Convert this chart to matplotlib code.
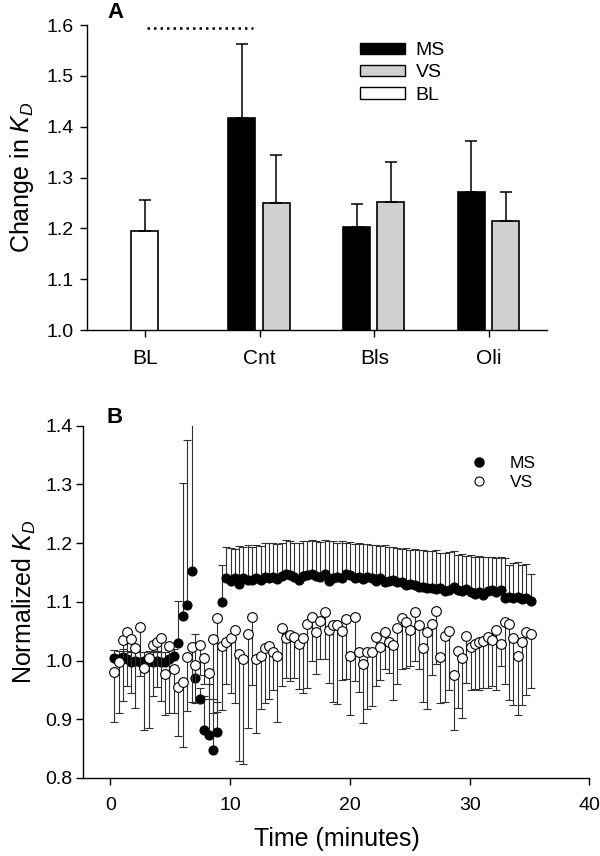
"""
Two-panel K_D figure: (A) bar chart of change in K_D by condition,
(B) time course of normalized K_D for MS and VS.
"""
import numpy as np
import matplotlib
matplotlib.use("Agg")
import matplotlib.pyplot as plt
from matplotlib.patches import Patch
from matplotlib.lines import Line2D

plt.rcParams.update({
    "font.family": ["Liberation Sans", "DejaVu Sans"],
    "mathtext.fontset": "custom",
    "mathtext.it": "Liberation Sans:italic",
    "mathtext.rm": "Liberation Sans",
    "axes.linewidth": 1.0,
})

# ── Panel A data ──────────────────────────────────────────────────────────────
categories = ["BL", "Cnt", "Bls", "Oli"]
bl_value = 1.195
bl_err = 0.061
ms_values = [1.418, 1.203, 1.272]     # Cnt, Bls, Oli
ms_err = [0.144, 0.045, 0.100]
vs_values = [1.250, 1.251, 1.214]
vs_err = [0.094, 0.079, 0.058]
sig_line = (0.02, 0.94, 1.595)        # x from, x to, y  (BL vs Cnt)

# ── Panel B data ──────────────────────────────────────────────────────────────
time_min = [
    0.32, 0.71, 1.03, 1.41, 1.76, 2.08, 2.50, 2.82, 3.20, 3.53,
    3.88, 4.26, 4.60, 4.94, 5.32, 5.67, 6.06, 6.44, 6.79, 7.10,
    7.47, 7.85, 8.24, 8.56, 8.94, 9.29, 9.68, 10.06, 10.38, 10.74,
    11.09, 11.47, 11.83, 12.18, 12.56, 12.88, 13.24, 13.59, 13.94, 14.33,
    14.65, 15.03, 15.38, 15.74, 16.09, 16.44, 16.83, 17.18, 17.53, 17.92,
    18.24, 18.59, 18.97, 19.33, 19.68, 20.03, 20.42, 20.77, 21.12, 21.44,
    21.83, 22.18, 22.56, 22.92, 23.27, 23.62, 23.97, 24.33, 24.68, 25.06,
    25.42, 25.80, 26.12, 26.47, 26.86, 27.21, 27.56, 27.92, 28.30, 28.69,
    29.01, 29.36, 29.74, 30.10, 30.45, 30.80, 31.15, 31.51, 31.89, 32.24,
    32.60, 32.95, 33.33, 33.65, 34.04, 34.39, 34.74, 35.13,
]
ms_kd = [
    1.004, 1.003, 1.006, 1.003, 0.997, 1.000, 0.998, 0.999, 1.000, 0.998,
    1.000, 0.998, 0.997, 1.003, 1.008, 1.030, 1.076, 1.094, 1.153, 0.971,
    0.934, 0.882, 0.874, 0.848, 0.879, 1.100, 1.140, 1.136, 1.140, 1.131,
    1.140, 1.137, 1.137, 1.141, 1.138, 1.142, 1.140, 1.143, 1.139, 1.144,
    1.148, 1.146, 1.142, 1.137, 1.144, 1.146, 1.147, 1.144, 1.143, 1.147,
    1.136, 1.140, 1.143, 1.141, 1.148, 1.145, 1.140, 1.143, 1.139, 1.142,
    1.141, 1.136, 1.140, 1.134, 1.136, 1.137, 1.133, 1.134, 1.128, 1.130,
    1.129, 1.125, 1.126, 1.124, 1.124, 1.122, 1.124, 1.119, 1.121, 1.125,
    1.120, 1.118, 1.122, 1.116, 1.113, 1.117, 1.112, 1.118, 1.120, 1.117,
    1.120, 1.107, 1.108, 1.107, 1.108, 1.105, 1.106, 1.102,
]
ms_upper = [  # top of the MS error bar
    1.018, 1.017, 1.020, 1.016, 1.015, 1.016, 1.014, 1.015, 1.016, 1.014,
    1.017, 1.015, 1.014, 1.018, 1.020, 1.102, 1.302, 1.375, 1.450, 1.045,
    0.953, 0.940, 0.960, 0.935, 0.930, 1.162, 1.194, 1.192, 1.190, 1.195,
    1.193, 1.196, 1.194, 1.196, 1.195, 1.201, 1.200, 1.201, 1.199, 1.200,
    1.205, 1.203, 1.201, 1.200, 1.203, 1.204, 1.205, 1.203, 1.202, 1.206,
    1.203, 1.204, 1.200, 1.203, 1.200, 1.202, 1.199, 1.200, 1.198, 1.199,
    1.196, 1.197, 1.195, 1.196, 1.193, 1.194, 1.192, 1.190, 1.191, 1.189,
    1.190, 1.188, 1.189, 1.187, 1.186, 1.188, 1.184, 1.183, 1.185, 1.186,
    1.180, 1.181, 1.178, 1.179, 1.177, 1.178, 1.176, 1.176, 1.177, 1.175,
    1.176, 1.174, 1.163, 1.167, 1.168, 1.163, 1.165, 1.148,
]
vs_kd = [
    0.981, 0.998, 1.035, 1.049, 1.037, 1.022, 1.057, 0.988, 1.005, 1.027,
    1.031, 1.038, 0.977, 1.025, 0.985, 0.955, 0.963, 1.006, 1.023, 0.992,
    1.027, 1.004, 0.978, 1.037, 1.072, 1.024, 1.031, 1.038, 1.052, 1.011,
    1.003, 1.045, 1.075, 1.003, 1.007, 1.021, 1.025, 1.014, 1.007, 1.055,
    1.038, 1.044, 1.040, 1.028, 1.039, 1.063, 1.074, 1.048, 1.068, 1.082,
    1.052, 1.061, 1.060, 1.051, 1.070, 1.008, 1.075, 1.014, 0.994, 1.015,
    1.015, 1.040, 1.023, 1.048, 1.031, 1.026, 1.055, 1.072, 1.066, 1.052,
    1.082, 1.060, 1.022, 1.048, 1.062, 1.084, 1.006, 1.041, 1.051, 0.975,
    1.017, 1.004, 1.041, 1.023, 1.028, 1.031, 1.034, 1.040, 1.035, 1.052,
    1.029, 1.066, 1.062, 1.038, 1.007, 1.031, 1.048, 1.046,
]
vs_lower = [  # bottom of the VS error bar
    0.895, 0.911, 0.931, 0.957, 0.945, 0.919, 0.973, 0.882, 0.886, 0.939,
    0.955, 0.931, 0.907, 0.910, 0.910, 0.872, 0.852, 0.914, 0.930, 0.927,
    0.975, 0.960, 0.935, 0.910, 0.913, 0.915, 0.960, 0.945, 0.928, 0.829,
    0.824, 0.885, 0.958, 0.877, 0.917, 0.927, 0.934, 0.950, 0.896, 0.956,
    0.970, 0.966, 0.970, 0.951, 0.944, 0.953, 1.000, 0.977, 1.003, 1.002,
    0.962, 0.929, 0.926, 0.967, 0.968, 0.907, 0.966, 0.947, 0.893, 0.917,
    0.923, 0.956, 0.967, 0.985, 0.978, 0.933, 0.960, 0.985, 0.987, 0.991,
    1.000, 0.985, 0.930, 0.917, 0.975, 0.995, 0.928, 0.930, 0.950, 0.881,
    0.920, 0.902, 0.961, 0.950, 0.951, 0.950, 0.954, 0.954, 0.957, 0.950,
    0.990, 0.960, 0.933, 0.924, 0.907, 0.924, 0.941, 0.953,
]

W, H = 600, 856
fig = plt.figure(figsize=(W / 100, H / 100), dpi=100)


def px_axes(left, top, right, bottom):
    return fig.add_axes([left / W, 1 - bottom / H, (right - left) / W, (bottom - top) / H])


def style_axes(ax):
    for side in ("top", "right"):
        ax.spines[side].set_visible(False)
    ax.tick_params(direction="out", length=5, width=1.0, labelsize=14)


# ── Panel A ───────────────────────────────────────────────────────────────────
axA = px_axes(87.3, 25, 546.5, 330)
style_axes(axA)
pos = np.arange(len(categories))
bw = 0.235
ms_pos = pos[1:] - 0.155
vs_pos = pos[1:] + 0.145

axA.bar(pos[0], bl_value, bw, color="white", edgecolor="black", linewidth=1.2, zorder=2)
axA.bar(ms_pos, ms_values, bw, color="black", edgecolor="black", linewidth=1.2, zorder=2)
axA.bar(vs_pos, vs_values, bw, color="#d0d0d0", edgecolor="black", linewidth=1.2, zorder=2)
ekw = dict(fmt="none", ecolor="black", elinewidth=1.1, capsize=4, capthick=1.1, zorder=3)
axA.errorbar([pos[0]], [bl_value], yerr=[[0], [bl_err]], **ekw)
axA.errorbar(ms_pos, ms_values, yerr=[np.zeros(3), ms_err], **ekw)
axA.errorbar(vs_pos, vs_values, yerr=[np.zeros(3), vs_err], **ekw)

axA.plot([sig_line[0], sig_line[1]], [sig_line[2], sig_line[2]], color="black",
         linewidth=1.8, linestyle=(0, (1, 1.6)), clip_on=False)

axA.set_xlim(-0.5, 3.5)
axA.set_ylim(1.0, 1.6)
yA = [1.0, 1.1, 1.2, 1.3, 1.4, 1.5, 1.6]
axA.set_yticks(yA)
axA.set_yticklabels([f"{v:.1f}" for v in yA])
axA.set_xticks(pos)
axA.set_xticklabels(categories, fontsize=15)
axA.tick_params(axis="x", pad=9)
axA.tick_params(axis="y", pad=5)
axA.set_ylabel(r"Change in $K_D$", fontsize=18, labelpad=7)

handlesA = [Patch(facecolor="black", edgecolor="black", label="MS"),
            Patch(facecolor="#d0d0d0", edgecolor="black", label="VS"),
            Patch(facecolor="white", edgecolor="black", label="BL")]
axA.legend(handles=handlesA, loc="upper left", bbox_to_anchor=(360 / W, 1 - 42 / H),
           bbox_transform=fig.transFigure, frameon=False, fontsize=14,
           handlelength=2.3, handleheight=0.5, handletextpad=0.55,
           labelspacing=0.28, borderpad=0, borderaxespad=0)
fig.text(115 / W, 1 - 12 / H, "A", fontsize=16, fontweight="bold", ha="center", va="center")

# ── Panel B ───────────────────────────────────────────────────────────────────
axB = px_axes(83.4, 425.7, 589.4, 778)
style_axes(axB)
t = np.array(time_min)
ms = np.array(ms_kd)
vs = np.array(vs_kd)
ms_up = np.array(ms_upper) - ms
vs_dn = vs - np.array(vs_lower)

bkw = dict(fmt="none", ecolor="#303030", elinewidth=0.8, capsize=3.2, capthick=0.8)
axB.errorbar(t, ms, yerr=[np.zeros_like(ms), ms_up], zorder=2, **bkw)
axB.plot(t, ms, "o", color="black", markersize=6.5, markeredgewidth=0.8, zorder=3, label="MS")
axB.errorbar(t, vs, yerr=[vs_dn, np.zeros_like(vs)], zorder=4, **bkw)
axB.plot(t, vs, "o", markerfacecolor="white", markeredgecolor="black", markersize=7,
         markeredgewidth=0.8, zorder=5, label="VS")

axB.set_xlim(-2.24, 40)
axB.set_ylim(0.8, 1.4)
axB.set_xticks([0, 10, 20, 30, 40])
yB = [0.8, 0.9, 1.0, 1.1, 1.2, 1.3, 1.4]
axB.set_yticks(yB)
axB.set_yticklabels([f"{v:.1f}" for v in yB])
axB.tick_params(axis="x", pad=9)
axB.tick_params(axis="y", pad=3)
axB.set_xlabel("Time (minutes)", fontsize=18, labelpad=9)
axB.set_ylabel(r"Normalized $K_D$", fontsize=18, labelpad=5)

handlesB = [Line2D([], [], marker="o", linestyle="none", color="black", markersize=6.5, label="MS"),
            Line2D([], [], marker="o", linestyle="none", markerfacecolor="white",
                   markeredgecolor="black", markersize=6.5, markeredgewidth=0.8, label="VS")]
axB.legend(handles=handlesB, loc="upper left", bbox_to_anchor=(470 / W, 1 - 456 / H),
           bbox_transform=fig.transFigure, frameon=False, fontsize=12.5,
           handlelength=1.0, handletextpad=1.3, labelspacing=0.2,
           borderpad=0, borderaxespad=0)
fig.text(115 / W, 1 - 417.5 / H, "B", fontsize=16, fontweight="bold", ha="center", va="center")

fig.savefig("out.png", dpi=100)
